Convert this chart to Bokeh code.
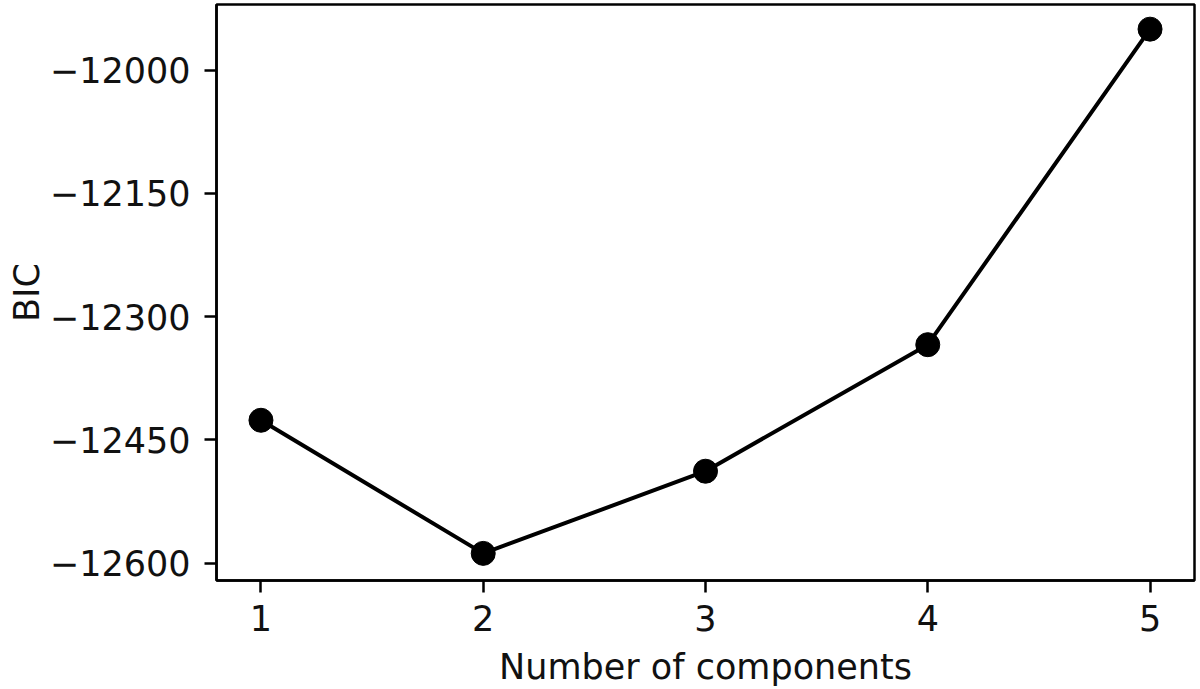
from bokeh.plotting import figure
from bokeh.models import Range1d, FixedTicker
from bokeh.embed import file_html
from bokeh.resources import INLINE

components = [1, 2, 3, 4, 5]
bic = [-12426, -12588, -12488, -12334, -11950]
x_ticks = [1, 2, 3, 4, 5]
y_ticks = [-12600, -12450, -12300, -12150, -12000]
y_tick_labels = ["\u221212600", "\u221212450", "\u221212300", "\u221212150", "\u221212000"]

FONT = "DejaVu Sans"

p = figure(width=1198, height=689, output_backend="svg", toolbar_location=None,
           x_range=Range1d(0.8, 5.2), y_range=Range1d(-12621, -11920),
           min_border_left=216, min_border_right=4, min_border_top=4, min_border_bottom=109)

p.line(components, bic, line_color="black", line_width=4)
p.scatter(components, bic, size=24, fill_color="black", line_color="black")

p.xgrid.visible = False
p.ygrid.visible = False
p.outline_line_color = "black"
p.outline_line_width = 2.5
p.outline_line_alpha = 1

for ax in (p.xaxis[0], p.yaxis[0]):
    ax.axis_line_color = "black"
    ax.axis_line_width = 2.5
    ax.major_tick_line_color = "black"
    ax.major_tick_line_width = 2.5
    ax.major_tick_out = 12
    ax.major_tick_in = 0
    ax.minor_tick_line_color = None
    ax.major_label_text_font = FONT
    ax.major_label_text_font_size = "35px"
    ax.major_label_text_color = "#111111"
    ax.axis_label_text_font = FONT
    ax.axis_label_text_font_size = "35px"
    ax.axis_label_text_font_style = "normal"
    ax.axis_label_text_color = "#111111"

p.xaxis.ticker = FixedTicker(ticks=x_ticks)
p.yaxis.ticker = FixedTicker(ticks=y_ticks)
p.yaxis.major_label_overrides = {t: l for t, l in zip(y_ticks, y_tick_labels)}
p.xaxis.axis_label = "Number of components"
p.yaxis.axis_label = "BIC"
p.xaxis.major_label_standoff = 12
p.yaxis.major_label_standoff = 14
p.xaxis.axis_label_standoff = 13
p.yaxis.axis_label_standoff = 0

open("out.html", "w").write(file_html(p, INLINE))
